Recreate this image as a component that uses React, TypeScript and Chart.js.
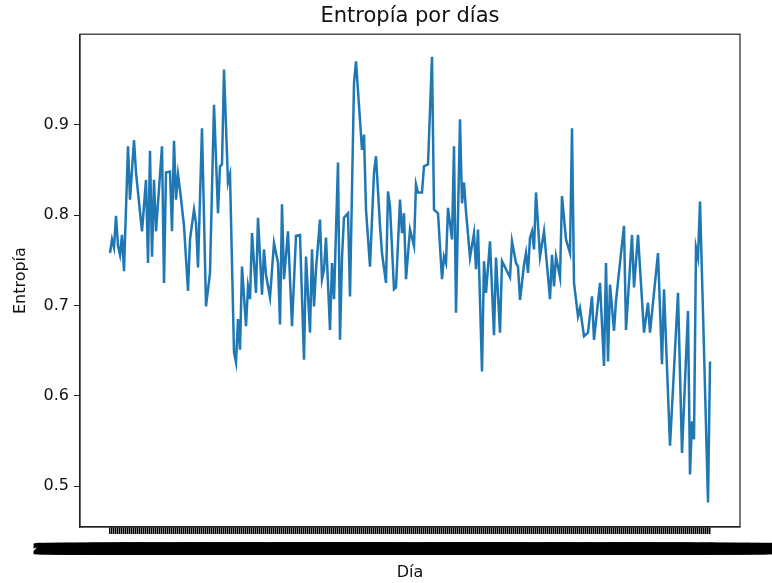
import { useEffect, useRef } from "react";
import { Chart, registerables } from "chart.js";

Chart.register(...registerables);

// Day index (position in the daily series) and entropy value
const dayIndex = [
  0, 1, 2, 3, 4, 5, 6, 7, 9, 10, 12, 13, 16, 18, 19, 20, 21, 22, 23, 26, 27, 28, 30, 31, 32, 33, 34, 35, 37, 39,
  40, 42, 43, 44, 46, 48, 50, 52, 54, 55, 56, 57, 59, 60, 62, 63, 64, 65, 66, 68, 69, 70, 71, 73, 74, 76, 77, 78, 80, 82,
  84, 85, 86, 87, 89, 91, 93, 95, 97, 98, 100, 101, 102, 103, 105, 106, 107, 108, 110, 111, 112, 114, 115, 116, 117, 119, 120, 122, 123, 126,
  127, 128, 130, 132, 133, 135, 136, 138, 139, 140, 142, 143, 145, 146, 147, 148, 150, 152, 153, 154, 156, 157, 159, 161, 162, 164, 166, 167, 168, 169,
  171, 172, 173, 175, 176, 177, 178, 180, 182, 183, 184, 186, 187, 188, 190, 192, 193, 195, 196, 198, 200, 201, 203, 204, 205, 207, 208, 209, 210, 211,
  212, 213, 215, 217, 220, 221, 222, 223, 225, 226, 228, 230, 231, 232, 234, 235, 237, 239, 241, 242, 245, 247, 248, 249, 250, 252, 253, 255, 257, 258,
  261, 262, 264, 267, 269, 270, 274, 276, 277, 280, 284, 286, 289, 290, 291, 292, 293, 294, 295, 297, 299, 300,
];

const entropy = [
  0.758, 0.773, 0.764, 0.799, 0.766, 0.756, 0.778, 0.738, 0.876, 0.817, 0.883, 0.847, 0.782, 0.839, 0.747, 0.871, 0.754, 0.839, 0.782, 0.876, 0.725, 0.847, 0.848, 0.782, 0.882, 0.817, 0.845, 0.828, 0.788, 0.716,
  0.773, 0.806, 0.791, 0.742, 0.896, 0.699, 0.736, 0.922, 0.802, 0.854, 0.856, 0.961, 0.836, 0.845, 0.648, 0.637, 0.685, 0.651, 0.743, 0.677, 0.721, 0.707, 0.78, 0.714, 0.797, 0.712, 0.762, 0.734, 0.709, 0.769,
  0.747, 0.679, 0.812, 0.729, 0.782, 0.677, 0.777, 0.778, 0.64, 0.754, 0.67, 0.762, 0.699, 0.74, 0.795, 0.729, 0.74, 0.775, 0.673, 0.747, 0.707, 0.858, 0.662, 0.753, 0.797, 0.802, 0.71, 0.946, 0.97, 0.872,
  0.889, 0.806, 0.743, 0.847, 0.865, 0.788, 0.758, 0.725, 0.826, 0.81, 0.718, 0.72, 0.817, 0.78, 0.802, 0.729, 0.784, 0.766, 0.834, 0.825, 0.825, 0.854, 0.856, 0.975, 0.806, 0.802, 0.729, 0.754, 0.747, 0.808,
  0.773, 0.876, 0.692, 0.906, 0.813, 0.836, 0.804, 0.753, 0.78, 0.74, 0.784, 0.627, 0.749, 0.714, 0.771, 0.667, 0.753, 0.67, 0.749, 0.74, 0.731, 0.771, 0.747, 0.743, 0.706, 0.745, 0.758, 0.736, 0.775, 0.782,
  0.762, 0.825, 0.754, 0.782, 0.707, 0.756, 0.721, 0.754, 0.731, 0.821, 0.773, 0.758, 0.896, 0.725, 0.688, 0.697, 0.666, 0.67, 0.71, 0.662, 0.725, 0.633, 0.747, 0.638, 0.723, 0.672, 0.705, 0.747, 0.788, 0.673,
  0.778, 0.72, 0.778, 0.67, 0.703, 0.67, 0.758, 0.635, 0.718, 0.545, 0.714, 0.537, 0.694, 0.513, 0.572, 0.552, 0.764, 0.753, 0.815, 0.651, 0.482, 0.638,
];

const yTicks = [0.5, 0.6, 0.7, 0.8, 0.9];
const totalDays = 301;
const startDay = "2020-01-01";

// one tick label per day (unreadable, overlapping in the reference)
const dayLabels: string[] = [];
{
  const t0 = Date.parse(startDay + "T00:00:00Z");
  for (let i = 0; i < totalDays; i++) {
    const d = new Date(t0 + i * 86400000);
    dayLabels.push(d.toISOString().slice(0, 10) + " 00:00:00");
  }
}

const FONT = "'DejaVu Sans', sans-serif";

const framePlugin = {
  id: "frame",
  afterDraw(chart: any) {
    const { ctx, chartArea: a } = chart;
    ctx.save();
    ctx.strokeStyle = "#222";
    ctx.lineWidth = 1.2;
    ctx.strokeRect(a.left, a.top, a.right - a.left, a.bottom - a.top);
    ctx.restore();
  },
};

export default function App() {
  const ref = useRef<HTMLCanvasElement | null>(null);

  useEffect(() => {
    if (!ref.current) return;
    const last = totalDays - 1;
    const chart = new Chart(ref.current, {
      type: "line",
      data: {
        datasets: [
          {
            data: dayIndex.map((d, i) => ({ x: d, y: entropy[i] })),
            borderColor: "#1f77b4",
            borderWidth: 2.5,
            pointRadius: 0,
            tension: 0,
            fill: false,
          },
        ],
      },
      options: {
        animation: false,
        responsive: false,
        devicePixelRatio: 1,
        layout: { padding: { left: 0, right: 32, top: 0, bottom: 0 } },
        plugins: {
          legend: { display: false },
          tooltip: { enabled: false },
          title: {
            display: true,
            text: "Entropía por días",
            fullSize: false,
            color: "#111",
            font: { family: FONT, size: 21, weight: "normal" },
            padding: { top: 4, bottom: 5 },
          },
        },
        scales: {
          x: {
            type: "linear",
            min: -0.05 * last,
            max: last * 1.05,
            afterBuildTicks: (s: any) => {
              s.ticks = dayLabels.map((_, i) => ({ value: i }));
            },
            afterFit: (s: any) => {
              s.height = 56;
              s.paddingLeft = 0;
              s.paddingRight = 0;
            },
            ticks: {
              autoSkip: false,
              maxRotation: 0,
              minRotation: 0,
              color: "#000",
              textStrokeColor: "#000",
              textStrokeWidth: 2.5,
              padding: 8,
              font: { family: FONT, size: 13, weight: "bold" },
              callback: (v: any) => dayLabels[v] ?? "",
            },
            grid: { drawOnChartArea: false, tickLength: 7, color: "#000", lineWidth: 1.5 },
            border: { display: true, color: "#222", width: 1.2 },
            title: {
              display: true,
              text: "Día",
              color: "#111",
              font: { family: FONT, size: 16 },
              padding: { top: 0, bottom: 1 },
            },
          },
          y: {
            type: "linear",
            min: 0.455,
            max: 1.0,
            afterBuildTicks: (s: any) => {
              s.ticks = yTicks.map((v) => ({ value: v }));
            },
            afterFit: (s: any) => {
              s.width = 80;
              s.paddingTop = 0;
              s.paddingBottom = 0;
            },
            ticks: {
              color: "#111",
              padding: 5,
              font: { family: FONT, size: 16 },
              callback: (v: any) => Number(v).toFixed(1),
            },
            grid: { drawOnChartArea: false, tickLength: 6, color: "#222", lineWidth: 1 },
            border: { display: true, color: "#222", width: 1.2 },
            title: {
              display: true,
              text: "Entropía",
              color: "#111",
              font: { family: FONT, size: 16 },
              padding: { top: 11, bottom: 0 },
            },
          },
        },
      },
      plugins: [framePlugin],
    } as any);
    return () => chart.destroy();
  }, []);

  return (
    <div style={{ position: "fixed", left: 0, top: 0, width: 772, height: 583, background: "#fff" }}>
      <canvas ref={ref} width={772} height={583} style={{ display: "block", width: 772, height: 583 }} />
    </div>
  );
}
